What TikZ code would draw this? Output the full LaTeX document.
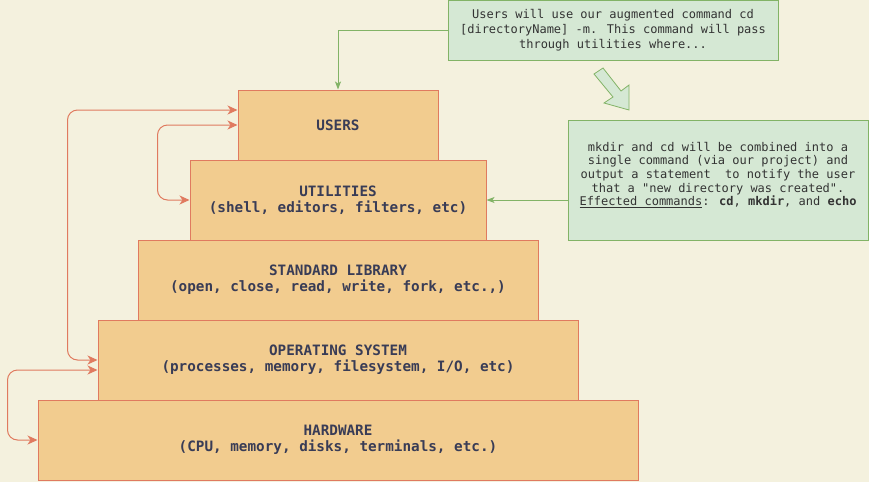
\documentclass[tikz,border=0pt]{standalone}
\usepackage{fontspec}
\setmonofont{DejaVu Sans Mono}
\newfontfamily\boxfont{DejaVu Sans Mono}
\usetikzlibrary{arrows.meta,calc}
\definecolor{bgc}{HTML}{F4F1DE}
\definecolor{layerfill}{HTML}{F2CC8F}
\definecolor{layerline}{HTML}{E07A5F}
\definecolor{layertext}{HTML}{393C56}
\definecolor{notefill}{HTML}{D5E8D4}
\definecolor{noteline}{HTML}{82B366}
\definecolor{notetext}{HTML}{333333}
\tikzset{
  layer/.style={draw=layerline, fill=layerfill, line width=1pt, inner sep=0pt,
    text=layertext, align=center, font=\boxfont\bfseries\fontsize{14.3}{16}\selectfont},
  note/.style={draw=noteline, fill=notefill, line width=1pt, inner sep=0pt,
    text=notetext, align=center},
  redlink/.style={draw=layerline, line width=1pt, rounded corners=10pt,
    {Stealth[length=10pt,width=9pt,inset=3pt]}-{Stealth[length=10pt,width=9pt,inset=3pt]}},
  greenlink/.style={draw=noteline, line width=1pt,
    -{Stealth[length=8pt,width=6pt,inset=2pt]}},
  bigarrow/.style={draw=noteline, fill=notefill, line width=0.8pt, line join=miter}
}
\begin{document}
\begin{tikzpicture}[x=1pt,y=-1pt]
\fill[bgc] (0,0) rectangle (869,482);
\useasboundingbox (0,0) rectangle (869,482);

\node[layer, minimum width=600pt, minimum height=80pt] (hw) at (338,440)
  {HARDWARE\\(CPU, memory, disks, terminals, etc.)};
\node[layer, minimum width=480pt, minimum height=80pt] (os) at (338,360)
  {OPERATING SYSTEM\\(processes, memory, filesystem, I/O, etc)};
\node[layer, minimum width=400pt, minimum height=80pt] (lib) at (338,280)
  {STANDARD LIBRARY\\(open, close, read, write, fork, etc.,)};
\node[layer, minimum width=296pt, minimum height=80pt] (util) at (338,200)
  {UTILITIES\\(shell, editors, filters, etc)};
\node[layer, minimum width=200pt, minimum height=70pt] (users) at (338,125)
  {USERS};

\node[note, minimum width=330pt, minimum height=60pt,
  font=\ttfamily\fontsize{12}{15}\selectfont] (note1) at (613,30.5)
  {Users will use our augmented command cd\\{}{[}directoryName{]} -m. This command will pass\\through utilities where...};
\node[note, minimum width=300pt, minimum height=120pt] (note2) at (718,180) {};
\node[text=notetext, align=center, font=\ttfamily\fontsize{12}{13.7}\selectfont] (note2text) at (718,175)
  {mkdir and cd will be combined into a\\single command (via our project) and\\output a statement\ \ to notify the user\\that a "new directory was created".\\\underline{Effected commands}: \textbf{cd}, \textbf{mkdir}, and \textbf{echo}};

\draw[redlink] (util.west) -- ++(-32,0) |- (users.west);
\draw[redlink] (os.west) -- ++(-30,0) |- ($(users.west)+(0,-15)$);
\draw[redlink] ($(os.west)+(0,10)$) -- ++(-90,0) |- (hw.west);

\draw[greenlink] (note1.west) -| (users.north);
\draw[greenlink] (util.east -| note2.west) -- (util.east);

\draw[bigarrow] (594,74) -- (603,68) -- (621,91) -- (629,85) -- (629,110) -- (604,103) -- (613,97) -- cycle;
\end{tikzpicture}
\end{document}
